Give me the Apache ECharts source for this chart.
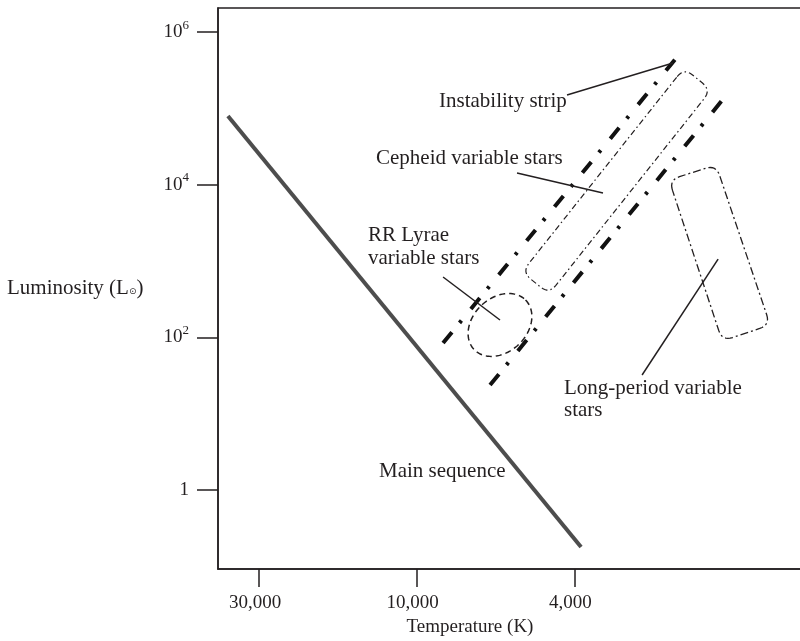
<!DOCTYPE html>
<html><head><meta charset="utf-8">
<script src="https://cdn.jsdelivr.net/npm/echarts@6/dist/echarts.min.js"></script>
<style>html,body{margin:0;padding:0;background:#fff}#c{width:800px;height:641px}</style>
</head><body><div id="c"></div>
<script>
// Schematic temperature axis: position 0 = 30,000 K, 1 = 10,000 K, 2 = 4,000 K
const tempTickPos = [0, 1, 2];
const tempTickLabels = ['30,000', '10,000', '4,000'];
// Luminosity axis in log10(L / L_sun)
const lumTickExp = [0, 2, 4, 6];

const mainSequence = [[-0.197, 4.902], [2.042, -0.747]];
const stripLeft = [[1.167, 1.927], [2.651, 5.675]];
const stripRight = [[1.465, 1.376], [2.949, 5.138]];
// four corners (x, logL) of the rounded boxes
const cepheidBox = [2.695, 5.531, 2.866, 5.242, 1.839, 2.569, 1.668, 2.857];
const longPeriodBox = [2.600, 4.063, 2.898, 4.260, 3.241, 2.163, 2.937, 1.953];
// ellipse: centre, end of major semi-axis, end of minor semi-axis
const rrLyraeEllipse = [1.528, 2.163, 1.690, 2.490, 1.649, 1.912];
const pointerInstability = [[1.953, 5.177], [2.625, 5.596]];
const pointerCepheid = [[1.636, 4.155], [2.181, 3.893]];
const pointerRR = [[1.167, 2.792], [1.528, 2.228]];
const pointerLong = [[2.429, 1.507], [2.911, 3.027]];

const FONT = 'Liberation Serif';
const INK = '#231f20';

function unit(a, p) {
  const dx = a[0] - p[0], dy = a[1] - p[1];
  const l = Math.sqrt(dx * dx + dy * dy) || 1;
  return [dx / l, dy / l];
}
function roundedPoly(pts, r, steps) {
  const out = [], n = pts.length;
  for (let i = 0; i < n; i++) {
    const p = pts[i], a = pts[(i - 1 + n) % n], b = pts[(i + 1) % n];
    const ua = unit(a, p), ub = unit(b, p);
    const A = [p[0] + ua[0] * r, p[1] + ua[1] * r];
    const B = [p[0] + ub[0] * r, p[1] + ub[1] * r];
    for (let s = 0; s <= steps; s++) {
      const t = s / steps, m = 1 - t;
      out.push([m * m * A[0] + 2 * m * t * p[0] + t * t * B[0],
                m * m * A[1] + 2 * m * t * p[1] + t * t * B[1]]);
    }
  }
  return out;
}
function boxSeries(values, dash, width) {
  return {
    type: 'custom', silent: true,
    encode: { x: [0, 2, 4, 6], y: [1, 3, 5, 7] },
    data: [values],
    renderItem: function (params, api) {
      const pts = [0, 1, 2, 3].map(i => api.coord([api.value(2 * i), api.value(2 * i + 1)]));
      return {
        type: 'polygon',
        shape: { points: roundedPoly(pts, 11, 8) },
        style: { fill: 'none', stroke: INK, lineWidth: width, lineDash: dash }
      };
    }
  };
}
function lineSeries(data, style) {
  return { type: 'line', data: data, symbol: 'none', silent: true, lineStyle: style, z: 3 };
}

const chart = echarts.init(document.getElementById('c'));
chart.setOption({
  animation: false,
  grid: { left: 218, top: 8, bottom: 72, right: -11, outerBoundsMode: 'none', containLabel: false,
          show: true, borderColor: INK, borderWidth: 1.5 },
  xAxis: {
    type: 'value', min: -0.26, max: 3.5,
    splitLine: { show: false },
    axisLine: { onZero: false, lineStyle: { color: INK, width: 1.5 } },
    axisTick: { customValues: tempTickPos, length: 18, lineStyle: { color: INK, width: 1.5 } },
    axisLabel: {
      customValues: tempTickPos, margin: 25, fontFamily: FONT, fontSize: 19, color: INK,
      padding: [0, 8, 0, 0],
      formatter: v => tempTickLabels[tempTickPos.indexOf(v)]
    }
  },
  yAxis: {
    type: 'value', min: -1.035, max: 6.317,
    splitLine: { show: false },
    axisLine: { onZero: false, lineStyle: { color: INK, width: 1.5 } },
    axisTick: { customValues: lumTickExp, length: 21, lineStyle: { color: INK, width: 1.5 } },
    axisLabel: {
      customValues: lumTickExp, margin: 29, color: INK, fontFamily: FONT, fontSize: 19,
      formatter: v => v === 0 ? '{b|1}' : '{b|10}{s|' + v + '}',
      rich: {
        b: { fontFamily: FONT, fontSize: 19, color: INK },
        s: { fontFamily: FONT, fontSize: 13, color: INK, padding: [0, 0, 14, 0] }
      }
    }
  },
  series: [
    lineSeries(mainSequence, { color: '#4d4d4d', width: 4 }),
    lineSeries(stripLeft, { color: '#111', width: 4, type: [14, 12, 3, 15], cap: 'butt' }),
    lineSeries(stripRight, { color: '#111', width: 4, type: [14, 12, 3, 15], cap: 'butt' }),
    boxSeries(cepheidBox, [6, 3, 1.5, 3], 1.2),
    boxSeries(longPeriodBox, [8, 3, 2, 3], 1.3),
    {
      type: 'custom', silent: true,
      encode: { x: [0, 2, 4], y: [1, 3, 5] },
      data: [rrLyraeEllipse],
      renderItem: function (params, api) {
        const c = api.coord([api.value(0), api.value(1)]);
        const m = api.coord([api.value(2), api.value(3)]);
        const n = api.coord([api.value(4), api.value(5)]);
        const pts = [];
        for (let k = 0; k < 96; k++) {
          const t = k / 96 * Math.PI * 2;
          pts.push([c[0] + (m[0] - c[0]) * Math.cos(t) + (n[0] - c[0]) * Math.sin(t),
                    c[1] + (m[1] - c[1]) * Math.cos(t) + (n[1] - c[1]) * Math.sin(t)]);
        }
        return { type: 'polygon', shape: { points: pts },
          style: { fill: 'none', stroke: INK, lineWidth: 1.5, lineDash: [6, 4] } };
      }
    },
    lineSeries(pointerInstability, { color: INK, width: 1.5 }),
    lineSeries(pointerCepheid, { color: INK, width: 1.5 }),
    lineSeries(pointerRR, { color: INK, width: 1.5 }),
    lineSeries(pointerLong, { color: INK, width: 1.5 })
  ],
  graphic: [
    { type: 'text', style: { x: 439, y: 101, text: 'Instability strip', font: '21px ' + FONT, fill: INK, verticalAlign: 'middle' } },
    { type: 'text', style: { x: 376, y: 158, text: 'Cepheid variable stars', font: '21px ' + FONT, fill: INK, verticalAlign: 'middle' } },
    { type: 'text', style: { x: 368, y: 235, text: 'RR Lyrae', font: '21px ' + FONT, fill: INK, verticalAlign: 'middle' } },
    { type: 'text', style: { x: 368, y: 258, text: 'variable stars', font: '21px ' + FONT, fill: INK, verticalAlign: 'middle' } },
    { type: 'text', style: { x: 564, y: 388, text: 'Long-period variable', font: '21px ' + FONT, fill: INK, verticalAlign: 'middle' } },
    { type: 'text', style: { x: 564, y: 410, text: 'stars', font: '21px ' + FONT, fill: INK, verticalAlign: 'middle' } },
    { type: 'text', style: { x: 379, y: 471, text: 'Main sequence', font: '21px ' + FONT, fill: INK, verticalAlign: 'middle' } },
    { type: 'text', style: { x: 470, y: 627, text: 'Temperature (K)', font: '19px ' + FONT, fill: INK, align: 'center', verticalAlign: 'middle' } },
    { type: 'text', style: { x: 7, y: 288, text: '{n|Luminosity (L}{sub|⊙}{n|)}', fill: INK, verticalAlign: 'middle',
        rich: { n: { fontFamily: FONT, fontSize: 21, color: INK }, sub: { fontFamily: 'DejaVu Sans', fontSize: 9, color: '#666', padding: [8, 0, 0, 0] } } } }
  ]
});
</script></body></html>
